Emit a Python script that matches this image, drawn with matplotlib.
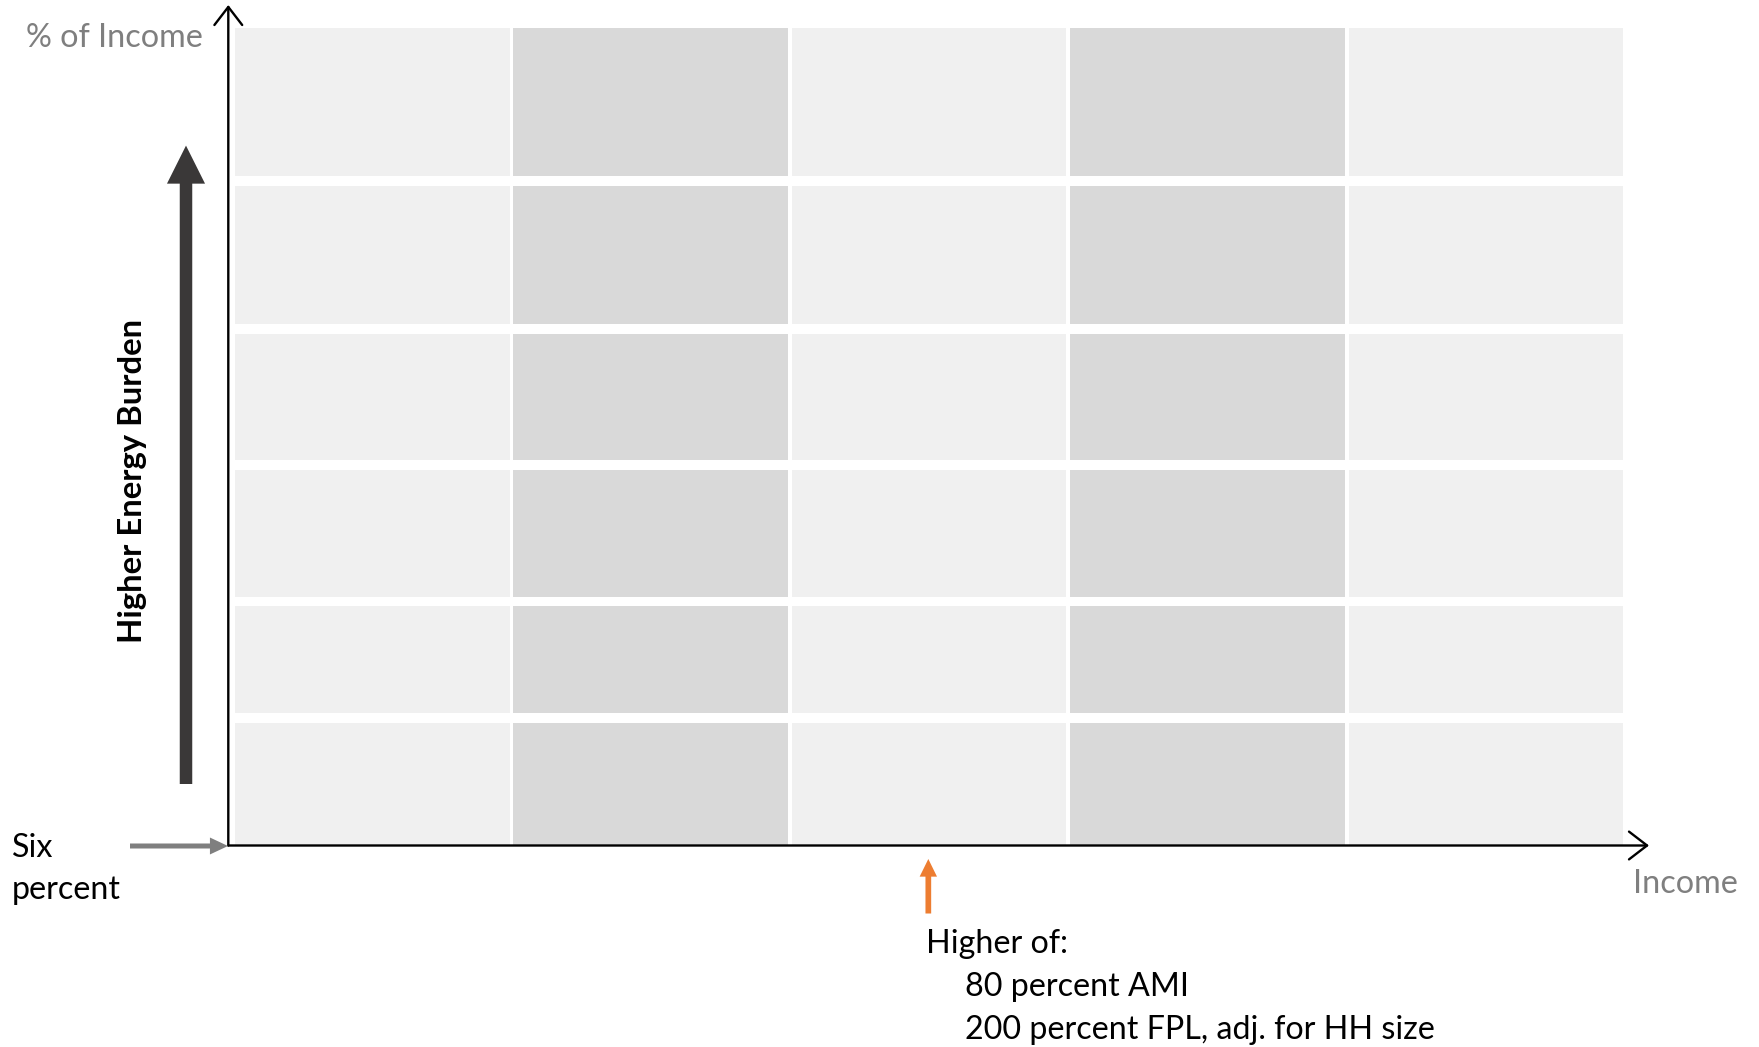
import matplotlib
matplotlib.use("Agg")
import matplotlib.pyplot as plt
from matplotlib.patches import FancyArrowPatch, ArrowStyle

# ---------------- data ----------------
income_bands = ["Band 1", "Band 2", "Band 3", "Band 4", "Band 5"]
band_shades = ["light", "dark", "light", "dark", "light"]
burden_rows = ["Row 1", "Row 2", "Row 3", "Row 4", "Row 5", "Row 6"]   # bottom -> top
row_heights = [122.8, 106.6, 126.6, 126.8, 138.0, 148.1]              # burden band heights
threshold_band = 2.514          # "Higher of" marker position, in income-band units
y_label = "% of Income"
x_label = "Income"
burden_label = "Higher Energy Burden"
floor_label = ["Six", "percent"]
threshold_lines = ["Higher of:", "80 percent AMI", "200 percent FPL, adj. for HH size"]

# ---------------- style ----------------
W, H, DPI = 1759, 1047, 100
FONT = "Lato"
LIGHT, DARK = "#f0f0f0", "#d9d9d9"
GRAY_TXT = "#7f7f7f"
row_gap = 9.7
band_pitch_px = 278.45
cell_offset = 0.024
cell_width = 0.986

fig = plt.figure(figsize=(W / DPI, H / DPI), dpi=DPI)

ox, oy = 228.3, 845.5          # origin in pixels
x_tip, y_tip = 1649.0, 5.0
ax = fig.add_axes([ox / W, (H - oy) / H, (x_tip - ox) / W, (oy - y_tip) / H])
xmax = (x_tip - ox) / band_pitch_px
ymax = oy - y_tip
ax.set_xlim(0, xmax)
ax.set_ylim(0, ymax)
ax.set_axis_off()

# cells
bottoms = []
b = 0.0
for h in row_heights:
    bottoms.append(b)
    b += h + row_gap
for i, shade in enumerate(band_shades):
    ax.bar([i + cell_offset] * len(row_heights), row_heights, bottom=bottoms,
           width=cell_width, align="edge", color=LIGHT if shade == "light" else DARK,
           linewidth=0, zorder=1)

# axis arrows
axis_style = ArrowStyle("->", head_length=13, head_width=10)
for pA, pB in [((0, 0), (xmax, 0)), ((0, 0), (0, ymax))]:
    ax.add_patch(FancyArrowPatch(pA, pB, arrowstyle=axis_style, mutation_scale=1,
                                 lw=1.7, color="black", shrinkA=0, shrinkB=0,
                                 clip_on=False, zorder=5))

# overlay axes in pixel coordinates for annotations
ov = fig.add_axes([0, 0, 1, 1], zorder=10)
ov.set_xlim(0, W)
ov.set_ylim(H, 0)
ov.set_axis_off()

def arrow(p0, p1, tail, head_w, head_l, color):
    st = ArrowStyle("simple", head_length=head_l, head_width=head_w, tail_width=tail)
    ov.add_patch(FancyArrowPatch(p0, p1, arrowstyle=st, mutation_scale=1,
                                 color=color, lw=0, shrinkA=0, shrinkB=0, clip_on=False))

# big "higher energy burden" arrow
arrow((186.0, 784.0), (186.0, 145.6), 9.0, 27.4, 27.4, "#3a3838")
# six-percent pointer
arrow((130.0, 846.0), (228.0, 846.0), 3.6, 12.2, 13.0, "#7f7f7f")
# threshold marker
tx = ox + threshold_band * band_pitch_px
arrow((tx, 913.5), (tx, 859.0), 4.1, 12.5, 12.7, "#ed7d31")

# texts
t_y = ov.text(26, 47, y_label, fontsize=26, family=FONT, color=GRAY_TXT, ha="left", va="baseline")
t_x = ov.text(1633, 893, x_label, fontsize=26, family=FONT, color=GRAY_TXT, ha="left", va="baseline")
t_b = ov.text(141.7, 480.5, burden_label, fontsize=26, family=FONT, fontweight="bold",
              color="black", rotation=90, rotation_mode="anchor", ha="center", va="baseline")
t_six = ov.text(11.7, 856.7, floor_label[0], fontsize=26, family=FONT, color="black", ha="left", va="baseline")
t_pct = ov.text(11.7, 899.3, floor_label[1], fontsize=26, family=FONT, color="black", ha="left", va="baseline")
t_h0 = ov.text(926, 953, threshold_lines[0], fontsize=26, family=FONT, color="black", ha="left", va="baseline")
t_h1 = ov.text(965, 996.5, threshold_lines[1], fontsize=26, family=FONT, color="black", ha="left", va="baseline")
t_h2 = ov.text(965, 1039, threshold_lines[2], fontsize=26, family=FONT, color="black", ha="left", va="baseline")

fig.canvas.draw()
r = fig.canvas.get_renderer()

def fit(t, target, vertical=False):
    bb = t.get_window_extent(r)
    cur = bb.height if vertical else bb.width
    return t.get_fontsize() * target / cur

s_gray = fit(t_y, 177)
for t in (t_y, t_x):
    t.set_fontsize(s_gray)
s_black = fit(t_h2, 468)
for t in (t_six, t_pct, t_h0, t_h1, t_h2):
    t.set_fontsize(s_black)
t_b.set_fontsize(fit(t_b, 325, vertical=True))

fig.savefig("out.png", dpi=DPI)
